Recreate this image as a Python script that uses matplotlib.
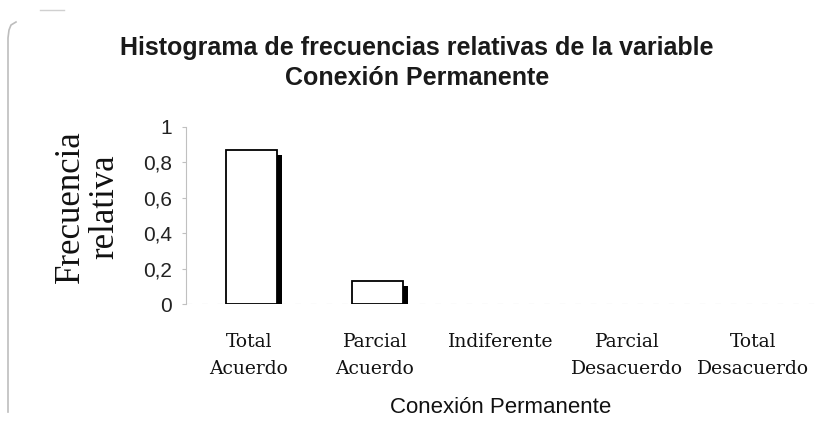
import numpy as np
import matplotlib.pyplot as plt
from matplotlib.lines import Line2D

categorias = ['Total\nAcuerdo', 'Parcial\nAcuerdo', 'Indiferente', 'Parcial\nDesacuerdo', 'Total\nDesacuerdo']
frecuencia = [0.87, 0.13, 0.0, 0.0, 0.0]
yticks = [0, 0.2, 0.4, 0.6, 0.8, 1]
ytick_labels = ['0', '0,2', '0,4', '0,6', '0,8', '1']

W, H = 834, 428
fig = plt.figure(figsize=(W / 100, H / 100), dpi=100)
fig.patch.set_facecolor('white')

# faint left edge of the scanned chart frame (rounded top corner)
fx = np.array([16, 11, 9, 8, 8]) / W
fy = 1 - np.array([22, 25, 30, 38, 412]) / H
fig.lines.append(Line2D(fx, fy, transform=fig.transFigure, color='#bdbdbd', linewidth=1.2))
fig.lines.append(Line2D([40 / W, 64 / W], [1 - 10 / H] * 2, transform=fig.transFigure,
                        color='#d0d0d0', linewidth=1.0))

ax = fig.add_axes([186 / W, 1 - 304 / H, 630 / W, 177 / H])
x = np.arange(len(categorias))
w = 0.41

# shadow on the right side of each bar, then the white bar on top
for xi, v in zip(x, frecuencia):
    if v > 0:
        ax.bar(xi + 0.06, v - 0.03, width=w, color='black', zorder=2)
        ax.bar(xi + 0.02, v, width=w, color='white', edgecolor='black', linewidth=1.3, zorder=3)

ax.set_xlim(-0.5, len(categorias) - 0.5)
ax.set_ylim(0, 1)
ax.axhline(0, color='#c4c4c4', linewidth=0.8, linestyle=(0, (5, 9)), zorder=1)

for s in ['top', 'right', 'bottom']:
    ax.spines[s].set_visible(False)
ax.spines['left'].set_color('#c0c0c0')
ax.spines['left'].set_linewidth(0.8)

ax.set_yticks(yticks)
ax.set_yticklabels(ytick_labels, fontsize=15, family='Liberation Sans', color='#222222')
ax.tick_params(axis='y', length=3, color='#c0c0c0', pad=7)

ax.set_xticks(x)
ax.set_xticklabels(categorias, fontsize=13.5, family='DejaVu Serif', color='#111111',
                   linespacing=1.6)
ax.tick_params(axis='x', length=0, pad=21)

ax.set_xlabel('Conexión Permanente', fontsize=16, family='Liberation Sans', color='#111111',
              labelpad=14)

fig.text(88 / W, 1 - 207 / H, 'Frecuencia\nrelativa', rotation=90, ha='center', va='center',
         fontsize=25, family='Liberation Serif', linespacing=1.05, color='#111111')

fig.text(0.5, 1 - 63 / H, 'Histograma de frecuencias relativas de la variable\nConexión Permanente',
         ha='center', va='center', fontsize=18, family='Liberation Sans', weight='bold',
         linespacing=1.35, color='#1a1a1a')

fig.savefig('out.png', dpi=100)
